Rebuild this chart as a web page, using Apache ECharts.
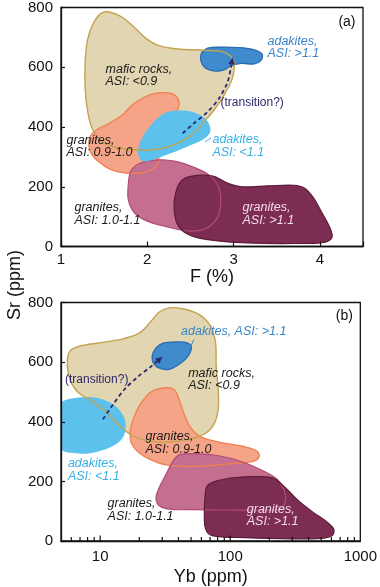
<!DOCTYPE html>
<html><head><meta charset="utf-8">
<script src="https://cdn.jsdelivr.net/npm/echarts@6/dist/echarts.min.js"></script>
<style>html,body{margin:0;padding:0;background:#fff}#c{width:380px;height:587px}</style>
</head><body><div id="c"></div>
<script>
// ---------- Panel (a): Sr (ppm) vs F (%) ----------
const maficA = [[1.50,785],[1.68,772],[1.83,739],[1.97,700],[2.12,674],[2.35,661],[2.66,657],[2.89,650],[3.00,622],[2.99,567],[2.91,517],[2.80,467],[2.66,418],[2.51,373],[2.31,340],[2.04,323],[1.73,327],[1.50,346],[1.37,390],[1.31,451],[1.28,528],[1.28,617],[1.31,694],[1.39,755]];
const orangeA = [[2.24,514],[2.33,504],[2.37,478],[2.33,445],[2.24,412],[2.16,368],[2.13,323],[2.13,287],[2.07,260],[1.93,246],[1.75,246],[1.58,257],[1.43,285],[1.34,318],[1.33,362],[1.41,390],[1.56,412],[1.71,440],[1.83,475],[1.95,497],[2.08,512]];
const lightBlueA = [[2.24,451],[2.43,455],[2.60,442],[2.70,418],[2.73,384],[2.64,357],[2.47,335],[2.27,312],[2.10,294],[1.95,285],[1.90,301],[1.90,335],[1.95,368],[2.04,406],[2.15,437]];
const pinkA = [[1.91,278],[2.12,290],[2.33,285],[2.54,265],[2.72,238],[2.83,196],[2.85,141],[2.80,91],[2.66,58],[2.47,52],[2.24,65],[2.00,85],[1.85,113],[1.78,157],[1.78,207],[1.81,252]];
const maroonA = [[2.50,235],[2.76,236],[2.93,212],[3.10,200],[3.40,203],[3.70,205],[3.82,196],[3.92,165],[4.02,115],[4.12,60],[4.14,30],[4.05,14],[3.70,10],[3.16,12],[2.70,23],[2.47,41],[2.35,74],[2.31,128],[2.33,180],[2.39,218]];
const darkBlueA = [[2.63,648],[2.70,664],[2.85,667],[3.05,666],[3.22,660],[3.33,645],[3.32,624],[3.24,611],[3.09,613],[2.98,606],[2.88,590],[2.77,588],[2.67,598],[2.62,622]];
const arrowA = [[2.41,379],[2.54,412],[2.70,451],[2.83,495],[2.93,550],[2.97,600],[2.99,633]];
const leaderA = [[2.67,350],[2.74,364]];
const labelsA = [
  {text:'mafic rocks,\nASI: <0.9', x:1.516, y:573, kind:'dark'},
  {text:'adakites,\nASI: >1.1', x:3.393, y:666, kind:'blue'},
  {text:'(transition?)', x:2.848, y:480, kind:'trans'},
  {text:'adakites,\nASI: <1.1', x:2.755, y:337, kind:'sky'},
  {text:'granites,\nASI: 0.9-1.0', x:1.064, y:334, kind:'dark'},
  {text:'granites,\nASI: 1.0-1.1', x:1.156, y:108, kind:'dark'},
  {text:'granites,\nASI: >1.1', x:3.103, y:108, kind:'light'},
  {text:'(a)', x:4.413, y:752, kind:'panel'}
];
const xLabelsA = [1,2,3,4];

// ---------- Panel (b): Sr (ppm) vs Yb (ppm), log x ----------
const maficB = [[34.0,782],[43.0,779],[57.5,760],[70.6,721],[77.1,665],[78.0,587],[80.8,509],[80.8,442],[75.0,392],[62.9,358],[48.3,341],[34.0,332],[23.9,336],[17.8,353],[14.1,386],[11.2,431],[8.58,470],[6.78,498],[5.86,542],[5.59,598],[5.86,637],[6.99,654],[9.94,665],[15.0,678],[20.1,698],[24.6,737],[28.5,768]];
const darkBlueB = [[25.1,620],[26.9,648],[30.2,663],[36.0,667],[44.2,667],[49.7,656],[49.7,637],[45.6,611],[39.3,589],[34.0,576],[29.4,578],[26.1,592]];
const lightBlueB = [[4.4,445],[5.21,470],[6.40,480],[8.32,483],[10.5,475],[12.9,455],[15.1,419],[15.7,380],[14.8,344],[12.5,319],[9.93,302],[7.86,293],[6.21,295],[5.21,302],[4.4,330]];
const orangeB = [[32.1,514],[37.1,507],[40.5,475],[44.2,425],[49.7,380],[59.3,349],[81.8,332],[127,317],[160,302],[167,283],[147,266],[92,258],[64.7,252],[45.5,250],[32.1,255],[24.6,272],[19.8,297],[17.3,330],[17.1,375],[18.4,420],[20.7,464],[24.6,500]];
const pinkB = [[40.5,289],[54.3,293],[81.8,286],[123,266],[180,235],[228,208],[261,168],[264,129],[242,107],[165,104],[92,104],[51.2,105],[34.0,107],[28.2,120],[26.9,146],[28.5,180],[32.1,224],[36.1,266]];
const maroonB = [[66.6,185],[79.5,202],[110,213],[165,216],[215,210],[264,180],[334,135],[435,96],[550,65],[625,40],[607,18],[503,9],[297,7],[131,11],[72.8,18],[64.7,40],[63.2,96],[64.0,146]];
const arrowB = [[10.5,408],[12.6,459],[15.4,509],[19.5,551],[23.9,581],[30.2,618]];
const leaderB = [[48.9,648],[52.7,676]];
const labelsB = [
  {text:'adakites, ASI: >1.1', x:41.9, y:703, kind:'blue'},
  {text:'mafic rocks,\nASI: <0.9', x:47.5, y:542, kind:'dark'},
  {text:'(transition?)', x:5.37, y:542, kind:'trans'},
  {text:'adakites,\nASI: <1.1', x:5.65, y:238, kind:'sky'},
  {text:'granites,\nASI: 0.9-1.0', x:22.3, y:328, kind:'dark'},
  {text:'granites,\nASI: 1.0-1.1', x:11.4, y:104, kind:'dark'},
  {text:'granites,\nASI: >1.1', x:134, y:85, kind:'light'},
  {text:'(b)', x:877, y:753, kind:'panel'}
];
const xLabelsB = [10,100,1000];
const majorTicksB = [10,100];
const minorTicksB = [6,7,8,9,20,30,40,50,60,70,80,90,200,300,400,500,600,700,800,900];

const yMin = 0, yMax = 800, yStep = 200;

// ---------- styles ----------
const FONT = '"Liberation Sans", Arial, Helvetica, sans-serif';
const C = {
  maficFill:'#e2d5b1', maficLine:'#c3a350',
  orangeFill:'#f5a487', orangeLine:'#f0804f',
  skyFill:'#5cc1ed',
  blueFill:'#3f8bcd', blueLine:'#2b6cb3',
  pinkFill:'#c46e90', pinkLine:'#b04c76',
  maroonFill:'#7d2d51', maroonLine:'#5c1c3a',
  arrow:'#2d2a6c'
};
const kindStyle = {
  dark:{fill:'#1a1a1a', font:'italic 12.5px '+FONT, align:'left'},
  blue:{fill:'#3a86c9', font:'italic 12.5px '+FONT, align:'left'},
  sky:{fill:'#35b2e6', font:'italic 12.5px '+FONT, align:'left'},
  light:{fill:'#f3dde7', font:'italic 12.5px '+FONT, align:'left'},
  trans:{fill:'#2d2a6c', font:'12px '+FONT, align:'left'},
  panel:{fill:'#111', font:'14px '+FONT, align:'right'}
};

function clipRect(cs){ return {type:'rect', shape:{x:cs.x, y:cs.y, width:cs.width, height:cs.height}}; }

function polySeries(pts, gi, style){
  return {type:'custom', xAxisIndex:gi, yAxisIndex:gi, silent:true, z:2, animation:false,
    data:[pts[0]],
    renderItem:function(params, api){
      const cs = params.coordSys;
      return {type:'polygon', shape:{points: pts.map(p=>api.coord(p)), smooth:0.35},
        style: Object.assign({}, style), clipPath: clipRect(cs)};
    }};
}
function lineSeries(pts, gi, style){
  return {type:'custom', xAxisIndex:gi, yAxisIndex:gi, silent:true, z:2, animation:false,
    data:[pts[0]],
    renderItem:function(params, api){
      return {type:'polyline', shape:{points: pts.map(p=>api.coord(p))}, style: Object.assign({fill:'none'}, style)};
    }};
}
function arrowSeries(pts, gi){
  return {type:'custom', xAxisIndex:gi, yAxisIndex:gi, silent:true, z:3, animation:false,
    data:[pts[0]],
    renderItem:function(params, api){
      const c = pts.map(p=>api.coord(p));
      const tip = c[c.length-1], prev = c[c.length-2];
      const a = Math.atan2(tip[1]-prev[1], tip[0]-prev[0]);
      const L = 7, W = 3.2;
      const base = [tip[0]-L*Math.cos(a), tip[1]-L*Math.sin(a)];
      const left = [base[0]-W*Math.sin(a), base[1]+W*Math.cos(a)];
      const right = [base[0]+W*Math.sin(a), base[1]-W*Math.cos(a)];
      const line = c.slice(0,-1).concat([base]);
      return {type:'group', children:[
        {type:'polyline', shape:{points:line, smooth:0.3}, style:{stroke:C.arrow, lineWidth:1.8, lineDash:[4,3], fill:'none'}},
        {type:'polygon', shape:{points:[tip,left,right]}, style:{fill:C.arrow}}
      ]};
    }};
}
function textSeries(labels, gi){
  return {type:'custom', xAxisIndex:gi, yAxisIndex:gi, silent:true, z:5, animation:false,
    data: labels.map(l=>[l.x, l.y]),
    renderItem:function(params, api){
      const l = labels[params.dataIndex];
      const s = kindStyle[l.kind];
      const p = api.coord([l.x, l.y]);
      return {type:'text', style:{text:l.text, x:p[0], y:p[1], fill:s.fill, font:s.font,
        align:s.align, verticalAlign:'middle', textAlign:s.align, textVerticalAlign:'middle',
        lineHeight:12.5, textLineHeight:12.5}};
    }};
}
function tickSeries(vals, gi, len){
  return {type:'custom', xAxisIndex:gi, yAxisIndex:gi, silent:true, z:6, animation:false,
    data: vals.map(v=>[v, yMin]),
    renderItem:function(params, api){
      const p = api.coord([api.value(0), yMin]);
      return {type:'line', shape:{x1:p[0], y1:p[1], x2:p[0], y2:p[1]-len}, style:{stroke:'#111', lineWidth:1.2}};
    }};
}

function layerSeries(gi, S){
  return [
    polySeries(S.mafic, gi, {fill:C.maficFill}),
    polySeries(S.orange, gi, {fill:C.orangeFill}),
    polySeries(S.pink, gi, {fill:C.pinkFill}),
    polySeries(S.maroon, gi, {fill:C.maroonFill}),
    polySeries(S.orange, gi, {fill:'none', stroke:C.orangeLine, lineWidth:1.3}),
    polySeries(S.pink, gi, {fill:'none', stroke:C.pinkLine, lineWidth:1.2}),
    polySeries(S.maroon, gi, {fill:'none', stroke:C.maroonLine, lineWidth:1.2}),
    polySeries(S.sky, gi, {fill:C.skyFill}),
    polySeries(S.blue, gi, {fill:C.blueFill, stroke:C.blueLine, lineWidth:1.3}),
    polySeries(S.mafic, gi, {fill:'none', stroke:C.maficLine, lineWidth:1.4})
  ];
}

const axisLine = {show:true, lineStyle:{color:'#111', width:1.3}};
const labelStyle = {color:'#111', fontSize:15, fontFamily:FONT};
function near(v, list){ return list.some(t=>Math.abs(v-t) <= Math.abs(t)*1e-6 + 1e-9); }

const yAxisCfg = (gi)=>({type:'value', gridIndex:gi, min:yMin, max:yMax, interval:yStep, z:10,
  axisLine:axisLine, splitLine:{show:false},
  axisTick:{show:true, inside:true, length:4, lineStyle:{color:'#111', width:1.2}},
  axisLabel:Object.assign({margin:8}, labelStyle)});

const option = {
  backgroundColor:'#fff',
  animation:false,
  grid:[
    {left:61, top:5, width:302, height:241.5, show:true, borderColor:'#111', borderWidth:1.3, backgroundColor:'transparent', z:10},
    {left:61, top:302.5, width:302, height:239.5, show:true, borderColor:'#111', borderWidth:1.3, backgroundColor:'transparent', z:10}
  ],
  xAxis:[
    {type:'value', gridIndex:0, min:1, max:4.5, interval:1, z:10,
     name:'F (%)', nameLocation:'middle', nameGap:21,
     nameTextStyle:{color:'#111', fontSize:18, fontFamily:FONT},
     axisLine:axisLine, splitLine:{show:false},
     axisTick:{show:true, inside:true, length:5, lineStyle:{color:'#111', width:1.2}},
     axisLabel:Object.assign({margin:6, formatter:v=>near(v, xLabelsA)?String(v):''}, labelStyle)},
    {type:'log', gridIndex:1, min:5, max:1000, logBase:10, z:10,
     name:'Yb (ppm)', nameLocation:'middle', nameGap:27,
     nameTextStyle:{color:'#111', fontSize:18, fontFamily:FONT},
     axisLine:axisLine, splitLine:{show:false}, axisTick:{show:false}, minorTick:{show:false},
     axisLabel:Object.assign({margin:8, showMinLabel:true, showMaxLabel:true,
       formatter:v=>near(v, xLabelsB)?String(Math.round(v)):''}, labelStyle)}
  ],
  yAxis:[yAxisCfg(0), yAxisCfg(1)],
  graphic:[
    {type:'text', x:15, y:285, rotation:Math.PI/2, z:20,
     style:{text:'Sr (ppm)', fill:'#111', font:'18px '+FONT, align:'center', verticalAlign:'middle', textAlign:'center', textVerticalAlign:'middle'}}
  ],
  series: [].concat(
    layerSeries(0, {mafic:maficA, orange:orangeA, pink:pinkA, maroon:maroonA, sky:lightBlueA, blue:darkBlueA}),
    [arrowSeries(arrowA, 0), lineSeries(leaderA, 0, {stroke:'#35b2e6', lineWidth:1}), textSeries(labelsA, 0)],
    layerSeries(1, {mafic:maficB, orange:orangeB, pink:pinkB, maroon:maroonB, sky:lightBlueB, blue:darkBlueB}),
    [arrowSeries(arrowB, 1), lineSeries(leaderB, 1, {stroke:'#3a86c9', lineWidth:1}), textSeries(labelsB, 1),
     tickSeries(minorTicksB, 1, 4), tickSeries(majorTicksB, 1, 5.5)]
  )
};
const chart = echarts.init(document.getElementById('c'));
chart.setOption(option);
</script>
</body></html>
